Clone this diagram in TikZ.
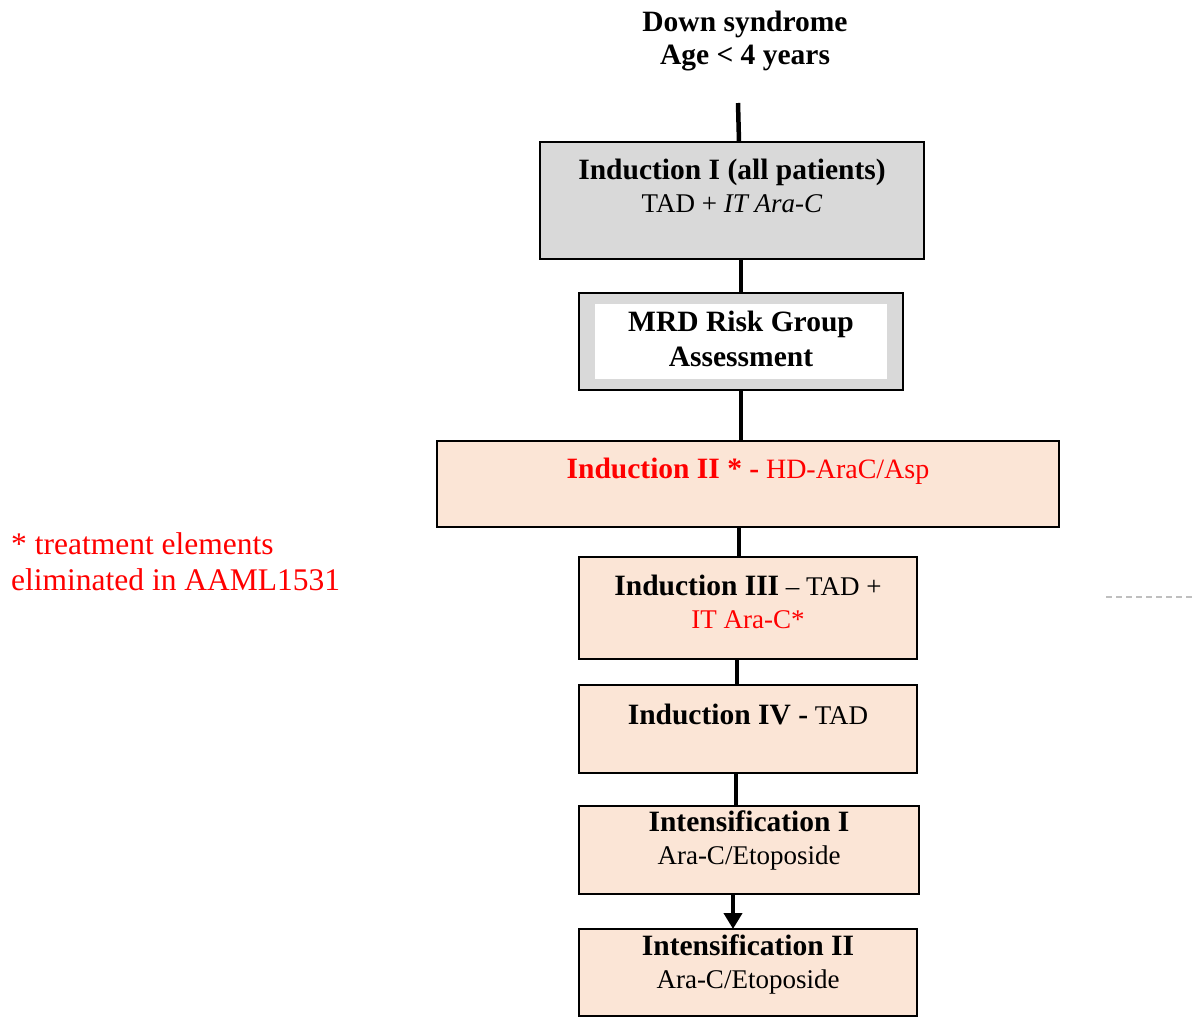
\documentclass[tikz,border=0pt]{standalone}
\usepackage{fontspec}
\setmainfont{Liberation Serif}
\usetikzlibrary{arrows.meta}
\definecolor{peach}{HTML}{FBE5D6}
\definecolor{boxgray}{HTML}{D9D9D9}
\definecolor{redtxt}{HTML}{FF0000}
\definecolor{dashgray}{HTML}{BFBFBF}
\newcommand{\bsz}[1]{{\fontsize{29.5}{33}\selectfont\bfseries #1}}
\begin{document}
\begin{tikzpicture}[x=1pt,y=-1pt,
  box/.style={draw=black,line width=1.8pt,inner sep=0pt,outer sep=0pt},
  graybox/.style={box,fill=boxgray},
  peachbox/.style={box,fill=peach},
  conn/.style={draw=black,line width=4.5pt},
  txt/.style={inner sep=0pt,align=center,font=\fontsize{27}{33}\selectfont},
]
\useasboundingbox (0,0) rectangle (1193,1017);
% title
\node[txt,font=\fontsize{29.5}{33}\selectfont\bfseries] (title) at (745,41) {Down syndrome\\Age < 4 years};
\coordinate (start) at (738,103);
% boxes
\node[graybox,minimum width=384,minimum height=117] (b1) at (732,200.5) {};
\node[graybox,minimum width=324,minimum height=97] (b2) at (741,341.5) {};
\node[fill=white,inner sep=0pt,minimum width=292,minimum height=75] (b2in) at (741,341.5) {};
\node[peachbox,minimum width=622,minimum height=86] (b3) at (748,484) {};
\node[peachbox,minimum width=338,minimum height=102] (b4) at (748,608) {};
\node[peachbox,minimum width=338,minimum height=88] (b5) at (748,729) {};
\node[peachbox,minimum width=340,minimum height=88] (b6) at (749,850) {};
\node[peachbox,minimum width=338,minimum height=87] (b7) at (748,972.5) {};
% texts
\node[txt] (t1) at (732,186) {\bsz{Induction I (all patients)}\\TAD + \textit{IT Ara-C}};
\node[txt,font=\fontsize{29.5}{35}\selectfont\bfseries] (t2) at (741,339) {MRD Risk Group\\Assessment};
\node[txt,text=redtxt] (t3) at (748,471) {\bsz{Induction II * -} {\fontsize{28}{33}\selectfont HD-AraC/Asp}};
\node[txt] (t4) at (748,602) {\bsz{Induction III} -- TAD +\\\textcolor{redtxt}{IT Ara-C*}};
\node[txt] (t5) at (748,714) {\bsz{Induction IV -} TAD};
\node[txt] (t6) at (749,840) {\bsz{Intensification I}\\Ara-C/Etoposide};
\node[txt] (t7) at (748,964) {\bsz{Intensification II}\\Ara-C/Etoposide};
% footnote
\node[txt,text=redtxt,align=left,anchor=west,font=\fontsize{31.5}{36}\selectfont] (note) at (11,562) {* treatment elements\\eliminated in AAML1531};
% dashed line at right
\coordinate (d1) at (1106,597);
\coordinate (d2) at (1193,597);
\draw[dashgray,line width=1.5pt,dash pattern=on 6pt off 4pt] (d1) -- (d2);
% connectors
\draw[conn] (start) -- ([xshift=7]b1.north);
\draw[conn] ([xshift=9]b1.south) -- (b2.north);
\draw[conn] (b2.south) -- ([xshift=-7]b3.north);
\draw[conn] ([xshift=-9]b3.south) -- ([xshift=-9]b4.north);
\draw[conn] ([xshift=-11]b4.south) -- ([xshift=-11]b5.north);
\draw[conn] ([xshift=-12]b5.south) -- ([xshift=-13]b6.north);
\draw[conn,-{Triangle[width=18pt,length=16pt]}] ([xshift=-16]b6.south) -- ([xshift=-15]b7.north);
\end{tikzpicture}
\end{document}
